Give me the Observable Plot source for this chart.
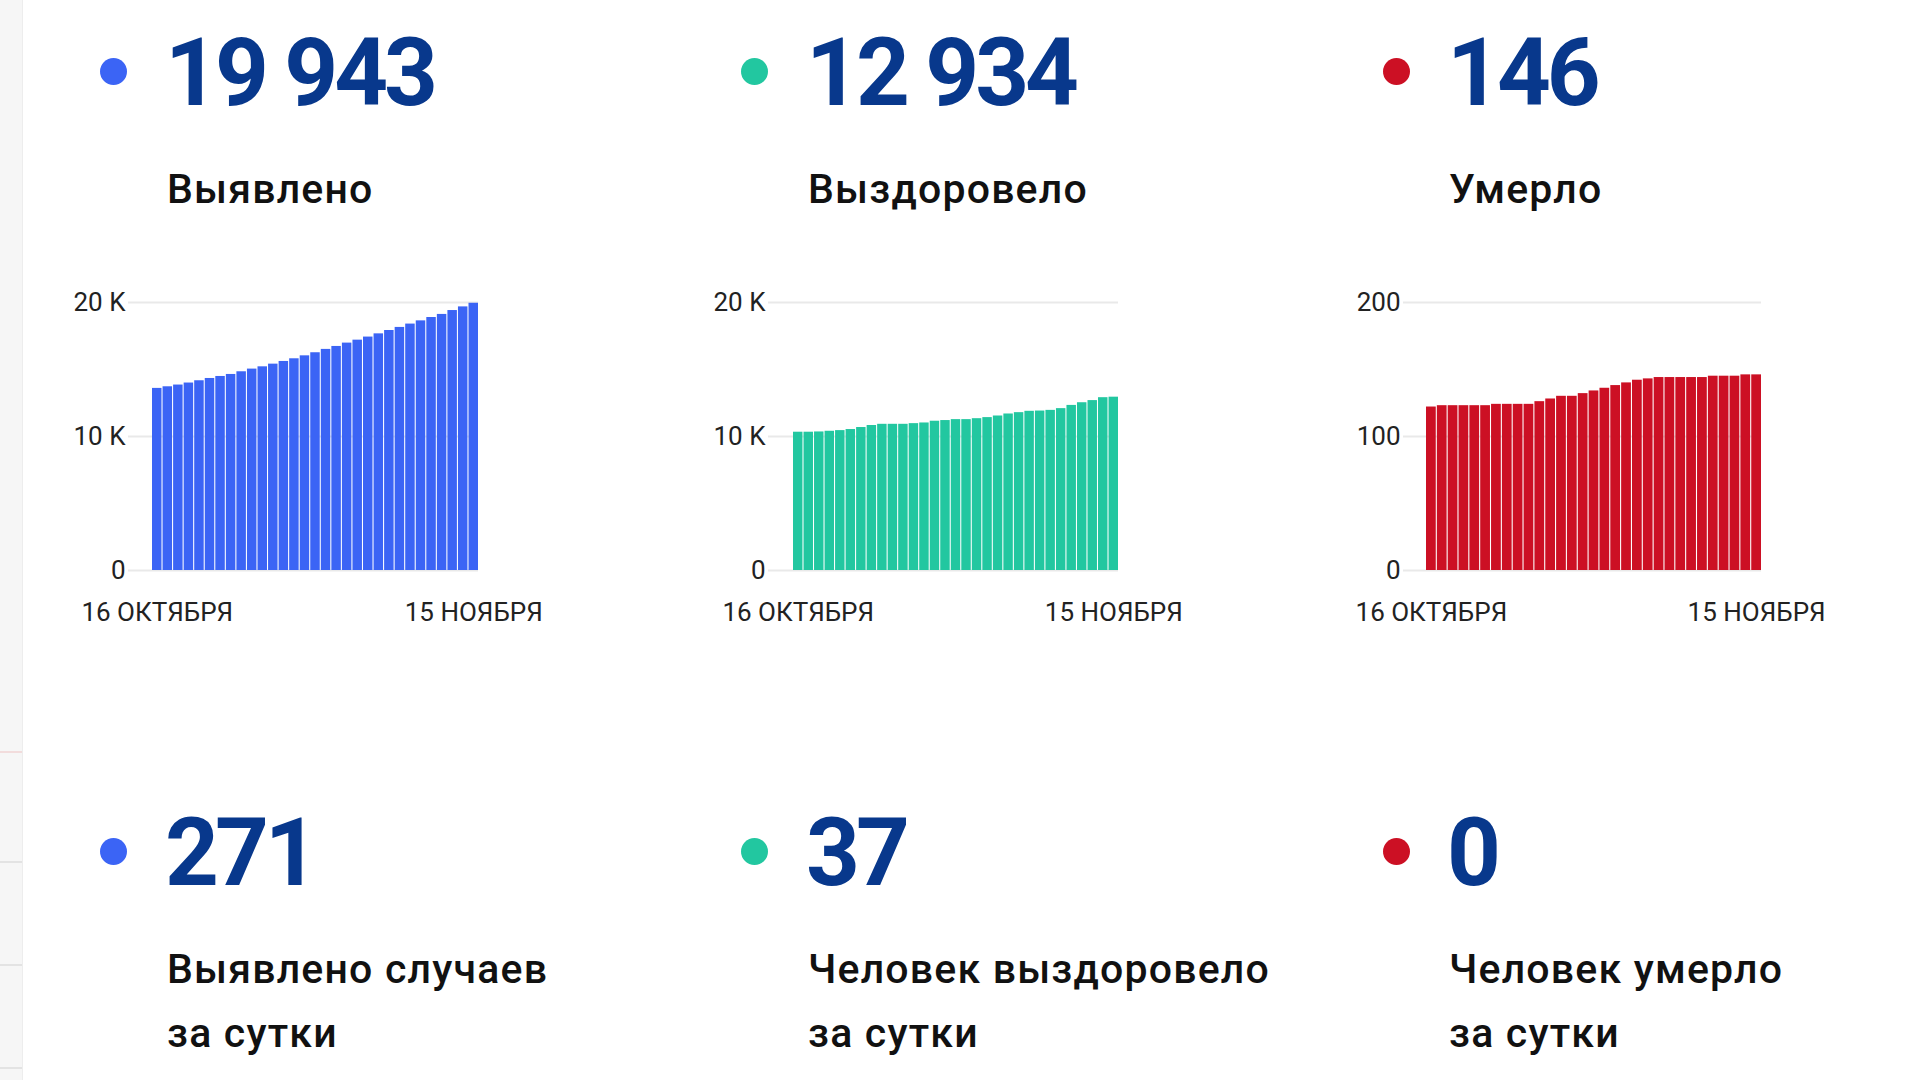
<!DOCTYPE html>
<html><head><meta charset="utf-8">
<script src="https://cdn.jsdelivr.net/npm/d3@7"></script>
<script src="https://cdn.jsdelivr.net/npm/@observablehq/plot@0.6"></script>
<style>
body{margin:0;width:1920px;height:1080px;overflow:hidden;background:#fff;font-family:Roboto,sans-serif;position:relative}
.strip{position:absolute;left:0;top:0;width:22px;height:1080px;background:#f6f6f6;border-right:1px solid #ededed}
.hl{position:absolute;left:0;width:22px;height:2px;background:#e3e3e3}
.dot{position:absolute;width:27px;height:27px;border-radius:50%}
.num{position:absolute;font-weight:700;font-size:94px;line-height:94px;color:#08388c;letter-spacing:-4px;white-space:nowrap}
.lab{position:absolute;font-weight:500;font-size:41px;line-height:64px;color:#111;letter-spacing:1.2px;white-space:nowrap}
.chart{position:absolute;top:280px}
</style></head><body>
<div class="strip"></div>
<div class="hl" style="top:751px;background:#f2dcdc"></div>
<div class="hl" style="top:861px"></div>
<div class="hl" style="top:964px"></div>
<div class="hl" style="top:1067px"></div>
<script>
const days = ["16.10","17.10","18.10","19.10","20.10","21.10","22.10","23.10","24.10","25.10","26.10","27.10","28.10","29.10","30.10","31.10",
  "01.11","02.11","03.11","04.11","05.11","06.11","07.11","08.11","09.11","10.11","11.11","12.11","13.11","14.11","15.11"];
const cases = [13590,13710,13840,13990,14160,14330,14480,14630,14830,15030,15200,15400,15600,15800,16020,16250,
  16500,16720,16970,17190,17420,17660,17910,18140,18390,18630,18880,19110,19400,19672,19943];
const recovered = [10320,10320,10340,10390,10440,10520,10670,10820,10910,10910,10910,10960,11010,11140,11190,11260,
  11260,11330,11410,11530,11680,11780,11880,11900,11950,12080,12320,12520,12680,12897,12934];
const deaths = [122,123,123,123,123,123,124,124,124,124,126,128,130,130,132,134,
  136,138,140,142,143,144,144,144,144,144,145,145,145,146,146];
const totals = [19943, 12934, 146];
const daily = [271, 37, 0];
const totalLabels = ["Выявлено", "Выздоровело", "Умерло"];
const dailyLabels = [["Выявлено случаев", "за сутки"], ["Человек выздоровело", "за сутки"], ["Человек умерло", "за сутки"]];
const colors = ["#3b64f5", "#22c7a0", "#cc1024"];
const dateTicks = ["16 ОКТЯБРЯ", "15 НОЯБРЯ"];
const yTicks = [[0, 10000, 20000], [0, 10000, 20000], [0, 100, 200]];
const yMax = [20000, 20000, 200];
const series = [cases, recovered, deaths];

const colX = [168, 809, 1450];
const dotX = [113, 754, 1396];
const chartLeft = [40, 680, 1315];
const chartFrameRight = [478, 1118, 1761];
const chartInset = [24, 25, 23];

const fmtNum = v => String(v).replace(/\B(?=(\d{3})+(?!\d))/g, " ");

function add(cls, style, text) {
  const d = document.createElement("div");
  d.className = cls;
  Object.assign(d.style, style);
  if (text != null) d.innerHTML = text;
  document.body.appendChild(d);
  return d;
}

for (let i = 0; i < 3; i++) {
  add("dot", {left: (dotX[i] - 13.5) + "px", top: "57.5px", background: colors[i]});
  add("num", {left: (colX[i] - 3) + "px", top: "26px"}, fmtNum(totals[i]));
  add("lab", {left: (colX[i] - 1) + "px", top: "157px"}, totalLabels[i]);
  add("dot", {left: (dotX[i] - 13.5) + "px", top: "837.5px", background: colors[i]});
  add("num", {left: (colX[i] - 3) + "px", top: "806px"}, fmtNum(daily[i]));
  add("lab", {left: (colX[i] - 1) + "px", top: "937px"}, dailyLabels[i].join("<br>"));

  const data = days.map((d, j) => ({day: d, value: series[i][j]}));
  const mr = 80;
  const width = chartFrameRight[i] - chartLeft[i] + mr;
  const yfmt = i < 2 ? (d => d === 0 ? "0" : d / 1000 + " K") : (d => String(d));
  const chart = Plot.plot({
    width, height: 350,
    marginTop: 22, marginBottom: 60, marginLeft: 88, marginRight: mr,
    style: {fontFamily: "Roboto, sans-serif", fontSize: "26px", color: "#222", background: "transparent", overflow: "visible"},
    x: {type: "band", domain: days, paddingInner: 0.1, paddingOuter: 0, round: false, insetLeft: chartInset[i], label: null},
    y: {domain: [0, yMax[i]], label: null},
    marks: [
      Plot.ruleY(yTicks[i], {stroke: "#e9e9e9", strokeWidth: 2}),
      Plot.barY(data, {x: "day", y: "value", fill: colors[i]}),
      Plot.axisY(yTicks[i], {tickSize: 0, tickPadding: 3, tickFormat: yfmt, label: null, fontSize: 26}),
      Plot.axisX([days[0], days[days.length - 1]], {tickSize: 0, tickPadding: 32, label: null, fontSize: 26,
        tickFormat: d => d === days[0] ? dateTicks[0] : dateTicks[1]})
    ]
  });
  const wrap = add("chart", {left: chartLeft[i] + "px"});
  wrap.appendChild(chart);
}
</script>
</body></html>
